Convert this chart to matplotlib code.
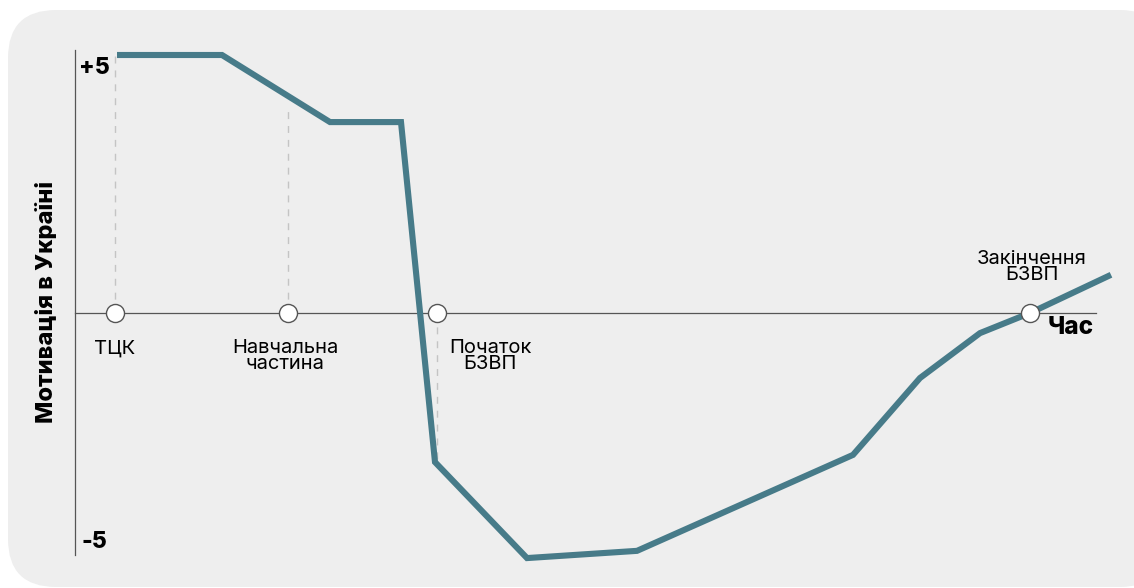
import matplotlib
matplotlib.use('Agg')
import matplotlib.pyplot as plt
from matplotlib.patches import FancyBboxPatch
from matplotlib.transforms import IdentityTransform

# motivation curve over time
time_pts   = [4.2, 14.7, 25.5, 32.6, 36.0, 45.2, 56.2, 77.8, 84.5, 90.5, 95.5, 103.6]
motivation = [5.0, 5.0, 3.7, 3.7, -2.89, -4.75, -4.61, -2.75, -1.26, -0.39, 0.0, 0.74]

# milestones on the time axis
stage_t      = [4.0, 21.3, 36.2, 95.5]
stage_labels = ['ТЦК', 'Навчальна\nчастина', 'Початок\nБЗВП', 'Закінчення\nБЗВП']
# where each dashed guide ends (None = no guide)
guide_to     = [5.0, 4.03, -2.87, None]

line_col = '#477b89'
plt.rcParams['font.family'] = ['Inter', 'DejaVu Sans']

fig = plt.figure(figsize=(11.34, 5.88), dpi=100)
fig.patch.set_facecolor('white')

# rounded grey card behind everything
card = FancyBboxPatch((8, 1), 1160, 577, boxstyle='round,pad=0,rounding_size=48',
                      transform=IdentityTransform(), facecolor='#eeeeee',
                      edgecolor='none', zorder=-1)
fig.add_artist(card)

ax = fig.add_axes([0, 0, 1, 1])
ax.set_xlim(-7.5, 105.9)
ax.set_ylim(-5.33, 6.066)
ax.axis('off')

# axes lines
ax.plot([0, 0], [5.1, -4.69], color='#555555', lw=0.9, zorder=2)
ax.plot([0, 102.1], [0, 0], color='#555555', lw=0.9, zorder=2)

for t, g in zip(stage_t, guide_to):
    if g is not None:
        ax.plot([t, t], [0, g], color='#c4c4c4', lw=1.0, ls=(0, (5, 5)), zorder=1)

ax.plot(time_pts, motivation, color=line_col, lw=4.4, solid_joinstyle='miter',
        solid_capstyle='butt', zorder=3)

ax.plot(stage_t, [0] * len(stage_t), 'o', ms=13, mfc='white', mec='#555555',
        mew=1.0, zorder=4)

# milestone captions
cap = dict(ha='center', va='center', fontsize=14.5, linespacing=0.88)
ax.text(stage_t[0], -0.70, stage_labels[0], **cap)
ax.text(21.0, -0.83, stage_labels[1], **cap)
ax.text(41.5, -0.83, stage_labels[2], **cap)
ax.text(95.7, 0.89, stage_labels[3], **cap)

ax.text(99.6, -0.29, 'Час', ha='center', va='center', fontsize=17.5, fontweight='heavy')
ax.text(1.9, 4.75, '+5', ha='center', va='center', fontsize=16.5, fontweight='heavy')
ax.text(1.9, -4.44, '-5', ha='center', va='center', fontsize=16.5, fontweight='heavy')
ax.text(-2.8, 0.21, 'Мотивація в Україні', ha='center', va='center', rotation=90,
        fontsize=17, fontweight='heavy')

fig.savefig('out.png', dpi=100, facecolor='white')
